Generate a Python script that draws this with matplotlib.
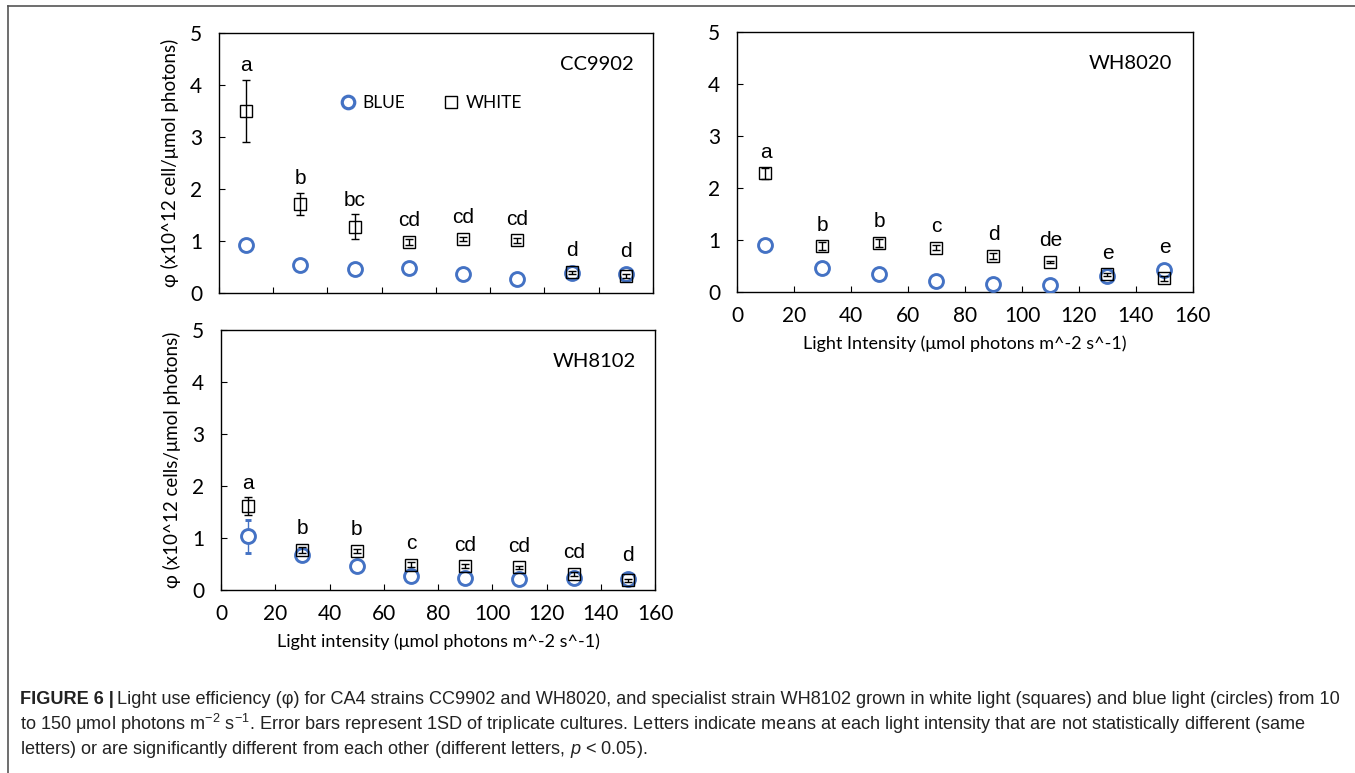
import matplotlib
matplotlib.use('Agg')
import matplotlib.pyplot as plt
from matplotlib.lines import Line2D

plt.rcParams['mathtext.fontset'] = 'custom'
plt.rcParams['mathtext.rm'] = 'Liberation Sans'
plt.rcParams['mathtext.it'] = 'Liberation Sans:italic'

# light intensity (umol photons m-2 s-1)
light = [10, 30, 50, 70, 90, 110, 130, 150]

# CC9902
cc_white = [3.50, 1.71, 1.27, 0.98, 1.04, 1.01, 0.40, 0.32]
cc_white_sd = [0.60, 0.21, 0.24, 0.05, 0.04, 0.04, 0.03, 0.04]
cc_blue = [0.92, 0.54, 0.46, 0.48, 0.37, 0.26, 0.38, 0.37]
cc_blue_sd = [0.04, 0.04, 0.04, 0.02, 0.04, 0.02, 0.02, 0.04]
cc_letters = ['a', 'b', 'bc', 'cd', 'cd', 'cd', 'd', 'd']

# WH8020
wh20_white = [2.28, 0.88, 0.94, 0.85, 0.69, 0.58, 0.34, 0.26]
wh20_white_sd = [0.10, 0.08, 0.08, 0.05, 0.05, 0.02, 0.03, 0.05]
wh20_blue = [0.91, 0.46, 0.35, 0.22, 0.16, 0.13, 0.30, 0.42]
wh20_blue_sd = [0.03, 0.02, 0.03, 0.02, 0.02, 0.02, 0.02, 0.02]
wh20_letters = ['a', 'b', 'b', 'c', 'd', 'de', 'e', 'e']

# WH8102
wh02_white = [1.61, 0.77, 0.75, 0.49, 0.46, 0.44, 0.31, 0.19]
wh02_white_sd = [0.17, 0.05, 0.04, 0.05, 0.04, 0.03, 0.04, 0.03]
wh02_blue = [1.03, 0.67, 0.46, 0.27, 0.24, 0.21, 0.24, 0.22]
wh02_blue_sd = [0.31, 0.04, 0.05, 0.04, 0.02, 0.03, 0.02, 0.02]
wh02_letters = ['a', 'b', 'b', 'c', 'cd', 'cd', 'cd', 'd']

BLUE = '#4472C4'
LBL_FONT = 'Lato'


def panel(ax, white, white_sd, blue, blue_sd, letters, strain):
    ax.errorbar(light, blue, yerr=blue_sd, fmt='o', ms=10, mfc='white', mec=BLUE,
                mew=2.1, ecolor=BLUE, elinewidth=1, capsize=2.5, zorder=3)
    ax.errorbar(light, white, yerr=white_sd, fmt='s', ms=9, mfc='none', mec='black',
                mew=1.0, ecolor='black', elinewidth=1, capsize=3, zorder=4)
    for x, w, we, b, be, lab in zip(light, white, white_sd, blue, blue_sd, letters):
        top = max(w + we, w + 0.13, b + be, b + 0.16)
        ax.text(x, top + 0.17, lab, ha='center', va='baseline', fontsize=15,
                family='Liberation Sans')
    ax.text(0.955, 0.88, strain, transform=ax.transAxes, ha='right', va='center',
            fontsize=14.5, family=LBL_FONT)
    ax.set_xlim(0, 160)
    ax.set_ylim(0, 5)
    ax.set_xticks(range(0, 161, 20))
    ax.set_yticks(range(0, 6))
    ax.tick_params(direction='in', length=4, labelsize=15)
    ax.tick_params(axis='y', pad=12)
    ax.tick_params(axis='x', pad=10)
    for lab in ax.get_xticklabels() + ax.get_yticklabels():
        lab.set_family(LBL_FONT)
    for s in ax.spines.values():
        s.set_linewidth(1.0)


fig = plt.figure(figsize=(13.55, 7.73), dpi=100)

ax1 = fig.add_axes([0.1616, 0.621, 0.3203, 0.3364])
panel(ax1, cc_white, cc_white_sd, cc_blue, cc_blue_sd, cc_letters, 'CC9902')
ax1.tick_params(axis='x', labelbottom=False)
ax1.set_ylabel('φ (x10^12 cell/μmol photons)', fontsize=13.5, family=LBL_FONT, labelpad=8)
handles = [Line2D([], [], ls='none', marker='o', ms=9, mfc='white', mec=BLUE, mew=2.3),
           Line2D([], [], ls='none', marker='s', ms=8, mfc='none', mec='black', mew=1.0)]
ax1.legend(handles, ['BLUE', 'WHITE'], ncol=2, frameon=False, loc='center',
           bbox_to_anchor=(0.485, 0.73), handletextpad=0.2, columnspacing=2.0,
           handlelength=1.3, prop={'family': LBL_FONT, 'size': 12.5})

ax2 = fig.add_axes([0.5439, 0.6223, 0.3365, 0.3364])
panel(ax2, wh20_white, wh20_white_sd, wh20_blue, wh20_blue_sd, wh20_letters, 'WH8020')
ax2.set_xlabel('Light Intensity (μmol photons m^-2 s^-1)', fontsize=13, family=LBL_FONT,
               labelpad=7)

ax3 = fig.add_axes([0.1631, 0.2367, 0.3203, 0.3364])
panel(ax3, wh02_white, wh02_white_sd, wh02_blue, wh02_blue_sd, wh02_letters, 'WH8102')
ax3.set_ylabel('φ (x10^12 cells/μmol photons)', fontsize=13.5, family=LBL_FONT, labelpad=8)
ax3.set_xlabel('Light intensity (μmol photons m^-2 s^-1)', fontsize=13, family=LBL_FONT,
               labelpad=7)

# figure frame (top and left edges visible)
fig.add_artist(Line2D([8 / 1355, 8 / 1355], [0, 1 - 6 / 773], transform=fig.transFigure,
                      color='#555555', lw=1.2))
fig.add_artist(Line2D([8 / 1355, 1], [1 - 6 / 773, 1 - 6 / 773], transform=fig.transFigure,
                      color='#555555', lw=1.2))

# caption
cap_font = ['Liberation Sans', 'DejaVu Sans']
cap_size = 13.05
x0 = 20 / 1355
ys = [1 - 699 / 773, 1 - 724 / 773, 1 - 749 / 773]
bold = fig.text(x0, ys[0], 'FIGURE 6 |', fontsize=cap_size, weight='bold',
                family=cap_font, va='center', color='#222222')
renderer = fig.canvas.get_renderer()
bb = bold.get_window_extent(renderer).transformed(fig.transFigure.inverted())
fig.text(bb.x1 + 0.002, ys[0],
         'Light use efficiency (φ) for CA4 strains CC9902 and WH8020, and specialist strain '
         'WH8102 grown in white light (squares) and blue light (circles) from 10',
         fontsize=cap_size, family=cap_font, va='center', color='#222222')
fig.text(x0, ys[1],
         'to 150 μmol photons m$^{-2}$ s$^{-1}$. Error bars represent 1SD of triplicate cultures. '
         'Letters indicate means at each light intensity that are not statistically different (same',
         fontsize=cap_size, family=cap_font, va='center', color='#222222')
fig.text(x0, ys[2],
         'letters) or are significantly different from each other (different letters, $p$ < 0.05).',
         fontsize=cap_size, family=cap_font, va='center', color='#222222')

fig.savefig('out.png', dpi=100)
plt.close(fig)
